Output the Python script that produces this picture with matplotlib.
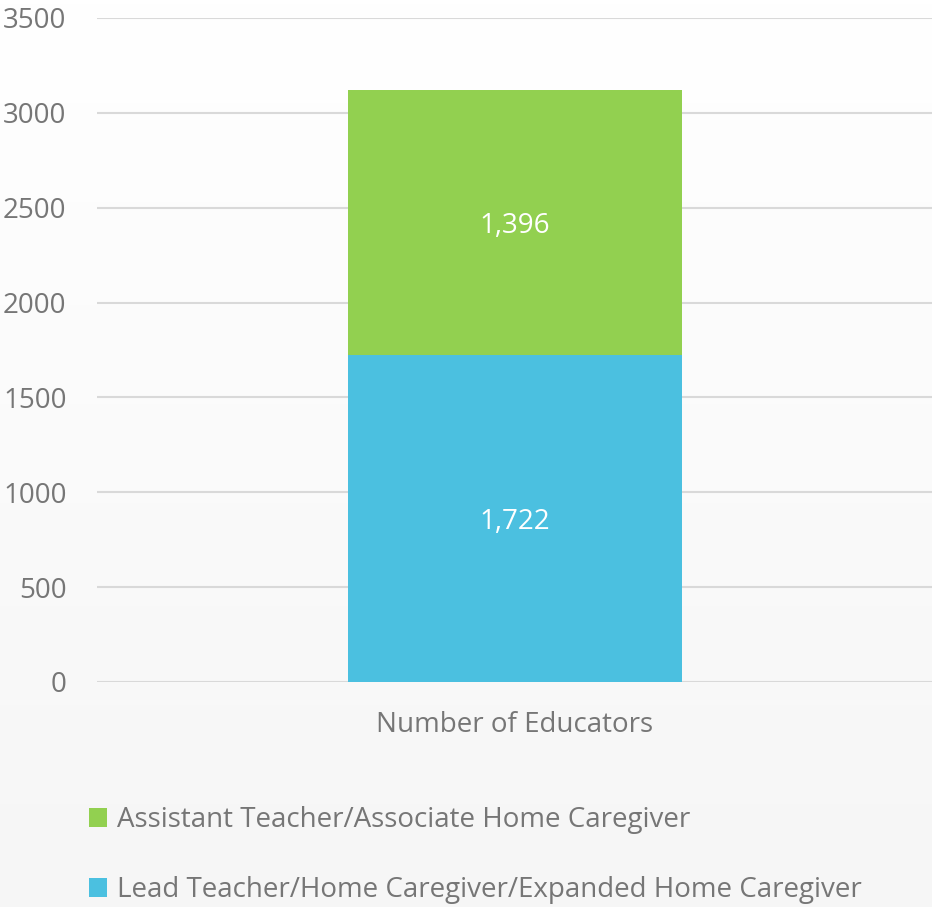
import matplotlib
matplotlib.use("Agg")
import matplotlib.pyplot as plt
import numpy as np
from matplotlib.patches import Patch

categories = ["Number of Educators"]
series_names = ["Lead Teacher/Home Caregiver/Expanded Home Caregiver",
                "Assistant Teacher/Associate Home Caregiver"]
lead_values = [1722]
assistant_values = [1396]
yticks = [0, 500, 1000, 1500, 2000, 2500, 3000, 3500]

blue = "#4bc0e0"
green = "#92d050"
text_gray = "#767676"
grid_gray = "#d9d9d9"

plt.rcParams['font.family'] = ['Open Sans', 'DejaVu Sans']

W, H = 932, 907
fig = plt.figure(figsize=(W / 100, H / 100), dpi=100)

# background gradient
bg = fig.add_axes([0, 0, 1, 1], zorder=-10)
grad = np.linspace(0, 1, 256).reshape(-1, 1)
top = np.array([1.0, 1.0, 1.0])
bot = np.array([0xf6, 0xf6, 0xf6]) / 255
img = top + (bot - top) * grad[..., None] * np.ones((1, 1, 3))
bg.imshow(img, aspect='auto', extent=[0, 1, 0, 1], origin='upper')
bg.axis('off')

left, right = 97 / W, 932 / W
ytop, ybot = 18 / H, 682 / H
ax = fig.add_axes([left, 1 - ybot, right - left, ybot - ytop])
ax.patch.set_alpha(0)

x = np.arange(len(categories))
bw = 0.8
b1 = ax.bar(x, lead_values, width=bw, color=blue, zorder=3)
b2 = ax.bar(x, assistant_values, width=bw, bottom=lead_values, color=green, zorder=3)

fs = 20
for i in range(len(categories)):
    ax.text(x[i], lead_values[i] / 2, f"{lead_values[i]:,}", ha='center', va='center_baseline',
            color='white', fontsize=fs, zorder=4)
    ax.text(x[i], lead_values[i] + assistant_values[i] / 2, f"{assistant_values[i]:,}",
            ha='center', va='center_baseline', color='white', fontsize=fs, zorder=4)

ax.set_xlim(-1, 1)
ax.set_ylim(0, 3500)
ax.set_yticks(yticks)
ax.set_yticklabels([str(v) for v in yticks], fontsize=fs, color=text_gray)
ax.set_xticks(x)
ax.set_xticklabels(categories, fontsize=fs, color=text_gray)
ax.tick_params(axis='y', length=0, pad=22)
ax.tick_params(axis='x', length=0, pad=21)
ax.yaxis.grid(True, color=grid_gray, linewidth=1.5, zorder=0)
ax.set_axisbelow(True)
for s in ax.spines.values():
    s.set_visible(False)

handles = [Patch(facecolor=green), Patch(facecolor=blue)]
labels = [series_names[1], series_names[0]]
fig.legend(handles, labels, loc='upper left', bbox_to_anchor=(89 / W, 1 - 806 / H),
           frameon=False, fontsize=fs, labelcolor=text_gray,
           handlelength=0.65, handleheight=0.65, handletextpad=0.35,
           labelspacing=1.52, borderaxespad=0, borderpad=0)

fig.savefig("out.png", dpi=100)
